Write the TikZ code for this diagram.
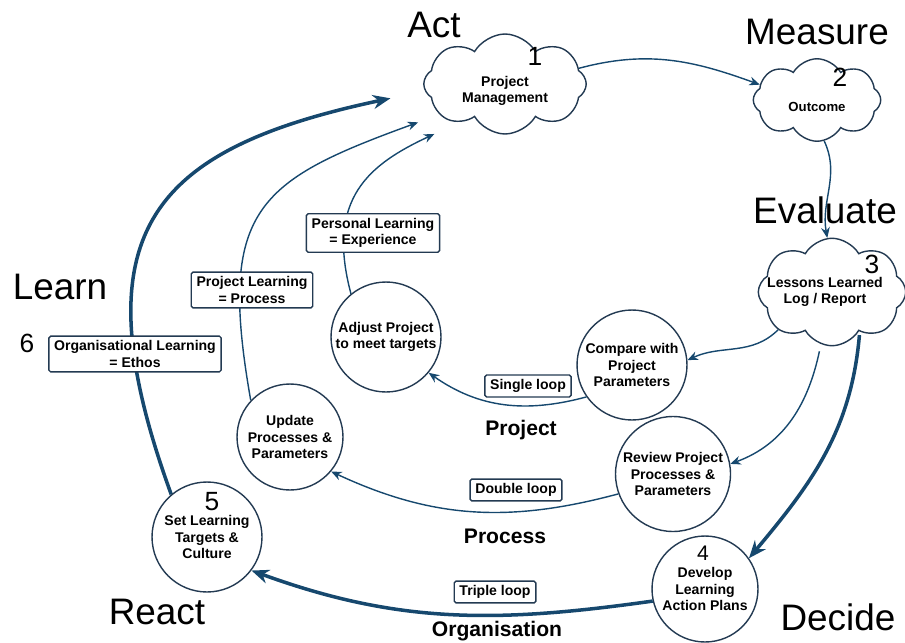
\documentclass[tikz,border=0pt]{standalone}
\usepackage{fontspec}
\setmainfont{Liberation Sans}
\usepackage{tikz}
\usetikzlibrary{positioning}
\usetikzlibrary{arrows.meta,shapes.symbols,calc,backgrounds}
\definecolor{loopblue}{RGB}{22,72,110}
\definecolor{edgeblue}{RGB}{35,58,82}

\begin{document}
\begin{tikzpicture}[x=0.02cm,y=-0.02cm,
  stage/.style={inner sep=0pt,font=\fontsize{21}{25}\selectfont},
  num/.style={inner sep=0pt,font=\fontsize{15}{18}\selectfont},
  puff/.style={cloud,cloud puffs=8,cloud puff arc=120,draw=edgeblue,line width=0.8pt,fill=white,inner sep=0pt},
  cloudtext/.style={align=center,inner sep=0pt,font=\fontsize{8}{9.5}\selectfont\bfseries},
  act/.style={circle,draw=edgeblue,line width=0.8pt,fill=white,align=center,inner sep=0pt,minimum size=2.2cm,font=\fontsize{8}{9.5}\selectfont\bfseries},
  tag/.style={rectangle,rounded corners=1pt,draw=edgeblue,line width=0.8pt,fill=white,align=center,inner xsep=3pt,inner ysep=2.5pt,font=\fontsize{8}{9.5}\selectfont\bfseries},
  loopname/.style={inner sep=0pt,font=\fontsize{12}{14}\selectfont\bfseries},
  flow/.style={draw=loopblue,line width=0.8pt,-{Stealth[length=6pt,width=5pt]}},
  bigflow/.style={draw=loopblue,line width=2pt,-{Stealth[length=10pt,width=8pt]}}]
\useasboundingbox (0,0) rectangle (905,642);

\node[stage] (wact) at (434,25) {Act};
\node[stage] (wmeas) at (817,32) {Measure};
\node[stage] (weval) at (825,210) {Evaluate};
\node[stage] (wlearn) at (60,287) {Learn};
\node[stage] (wreact) at (157,612) {React};
\node[stage] (wdec) at (838,617) {Decide};

\node[puff,minimum width=3.25cm,minimum height=2.0cm,
  label={[cloudtext,yshift=-4pt]center:Project\\Management}] (cloud1) at (505,84) {};
\node[num] (n1) at (535,56) {1};
\node[puff,minimum width=2.55cm,minimum height=1.65cm,
  label={[cloudtext,font=\fontsize{7.5}{9}\selectfont\bfseries,yshift=-4pt]center:Outcome}] (cloud2) at (817,100) {};
\node[num] (n2) at (840,77) {2};
\node[puff,minimum width=2.95cm,minimum height=2.15cm,
  label={[cloudtext,xshift=-4pt]center:Lessons Learned\\Log / Report}] (cloud3) at (832,292) {};
\node[num] (n3) at (872,264) {3};

\node[act] (adj) at (386,337) {Adjust Project\\to meet targets};
\node[act] (cmp) at (632,365) {Compare with\\Project\\Parameters};
\node[act,minimum size=2.12cm] (upd) at (290,437) {Update\\Processes \&\\Parameters};
\node[act,minimum size=2.3cm] (rev) at (673,474) {Review Project\\Processes \&\\Parameters};
\node[act] (set5) at (207,537) {Set Learning\\Targets \&\\Culture};
\node[num] (n5) at (212,502) {5};
\node[act,minimum size=2.12cm] (dev4) at (705,589) {Develop\\Learning\\Action Plans};
\node[num,font=\fontsize{12}{14}\selectfont] (n4) at (703,553) {4};

\node[tag] (pers) at (373,233) {Personal Learning\\= Experience};
\node[tag] (proj) at (252,290) {Project Learning\\= Process};
\node[tag] (org) at (135,354) {Organisational Learning\\= Ethos};
\node[num] (n6) at (27,343) {6};
\node[tag] (single) at (528,386) {Single loop};
\node[tag] (double) at (516,490) {Double loop};
\node[tag] (triple) at (495,592) {Triple loop};

\node[loopname] (lproj) at (521,430) {Project};
\node[loopname] (lproc) at (505,536) {Process};
\node[loopname] (lorg) at (497,631) {Organisation};

\begin{scope}[on background layer]
\draw[bigflow,shorten >=0.7cm] (set5.130) to[out=110,in=192,looseness=1.5] (cloud1.185);
\draw[flow,shorten >=0.45cm] (upd.137) to[out=100,in=200,looseness=1.45] (cloud1.205);
\draw[flow,shorten >=0.55cm] (adj.129) to[out=105,in=205,looseness=1.25] (cloud1.220);
\end{scope}
\draw[flow] (cloud1.12) to[out=15,in=160] (cloud2.165);
\draw[flow] (cloud2.-80) to[out=-65,in=100] (cloud3.95);
\draw[flow] (cloud3.215) to[out=225,in=25] (cmp.5);
\draw[flow,shorten <=4pt] (cloud3.258) to[out=258,in=20] (rev.10);
\draw[bigflow,shorten <=2pt] (cloud3.-55) to[out=265,in=50] (dev4.35);
\draw[flow] (cmp.215) to[out=195,in=-35] (adj.-40);
\draw[flow] (rev.200) to[out=195,in=-25] (upd.-40);
\draw[bigflow] (dev4.193) to[out=188,in=-20] (set5.-37);
\end{tikzpicture}
\end{document}
